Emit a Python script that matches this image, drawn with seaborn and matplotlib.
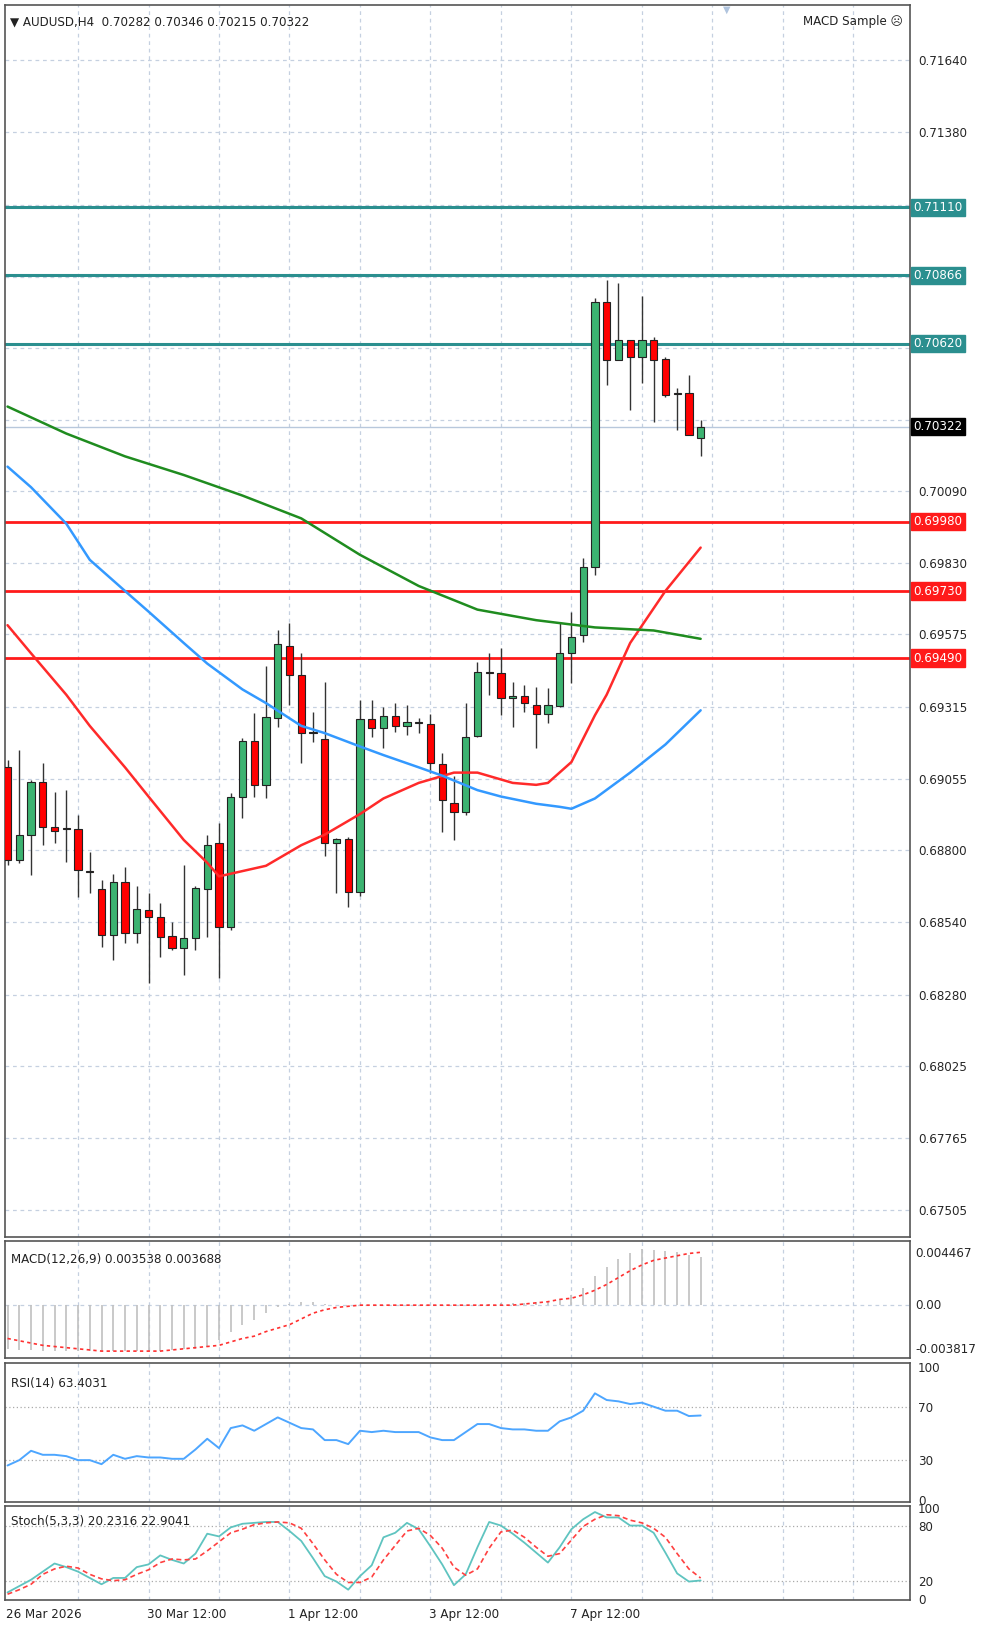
import numpy as np
import pandas as pd
import matplotlib
matplotlib.use("Agg")
import matplotlib.pyplot as plt
import matplotlib.transforms as mtrans
import seaborn as sns

sns.set_style("white")
plt.rcParams['font.family'] = ['DejaVu Sans']

# ---------------- data ----------------
opens = [0.69099,0.68764,0.68854,0.69044,0.68883,0.68880,0.68876,0.68725,0.68660,0.68495,
         0.68685,0.68502,0.68585,0.68559,0.68491,0.68448,0.68484,0.68660,0.68825,0.68523,
         0.68991,0.69192,0.69034,0.69275,0.69534,0.69429,0.69224,0.69199,0.68825,0.68840,
         0.68649,0.69271,0.69239,0.69282,0.69246,0.69260,0.69253,0.69109,0.68969,0.68937,
         0.69210,0.69440,0.69437,0.69347,0.69354,0.69322,0.69289,0.69318,0.69508,0.69573,
         0.69818,0.70770,0.70562,0.70634,0.70573,0.70634,0.70565,0.70443,0.70443,0.70282]
highs = [0.69124,0.69160,0.69052,0.69113,0.69009,0.69016,0.68926,0.68793,0.68692,0.68714,
         0.68739,0.68671,0.68646,0.68610,0.68541,0.68746,0.68671,0.68854,0.68897,0.69005,
         0.69203,0.69293,0.69462,0.69591,0.69616,0.69508,0.69296,0.69404,0.68843,0.68847,
         0.69340,0.69340,0.69314,0.69329,0.69322,0.69275,0.69289,0.69149,0.69066,0.69329,
         0.69476,0.69508,0.69526,0.69404,0.69393,0.69386,0.69383,0.69620,0.69656,0.69850,
         0.70785,0.70849,0.70839,0.70634,0.70792,0.70645,0.70573,0.70461,0.70508,0.70346]
lows = [0.68746,0.68754,0.68710,0.68818,0.68825,0.68757,0.68631,0.68646,0.68451,0.68404,
        0.68466,0.68466,0.68322,0.68415,0.68441,0.68351,0.68441,0.68487,0.68340,0.68513,
        0.68915,0.68991,0.68987,0.69242,0.69322,0.69113,0.69189,0.68779,0.68646,0.68595,
        0.68635,0.69207,0.69167,0.69224,0.69214,0.69221,0.69077,0.68865,0.68836,0.68926,
        0.69207,0.69357,0.69286,0.69242,0.69296,0.69167,0.69257,0.69314,0.69401,0.69548,
        0.69789,0.70472,0.70562,0.70382,0.70479,0.70339,0.70429,0.70310,0.70328,0.70215]
closes = [0.68764,0.68854,0.69044,0.68883,0.68869,0.68876,0.68728,0.68722,0.68495,0.68685,
          0.68502,0.68588,0.68559,0.68487,0.68448,0.68484,0.68664,0.68818,0.68523,0.68991,
          0.69192,0.69034,0.69278,0.69541,0.69429,0.69221,0.69221,0.68825,0.68840,0.68649,
          0.69271,0.69239,0.69282,0.69246,0.69260,0.69257,0.69113,0.68980,0.68937,0.69207,
          0.69440,0.69437,0.69347,0.69354,0.69329,0.69289,0.69322,0.69508,0.69566,0.69818,
          0.70770,0.70562,0.70634,0.70573,0.70634,0.70562,0.70436,0.70440,0.70290,0.70322]

ma_idx = [0,2,5,7,10,12,15,17,18,20,22,25,27,30,32,35,38,40,43,45,46,48,50,51,53,56,59]
ma_red = [0.69608,0.69507,0.69358,0.69246,0.69097,0.68992,0.68836,0.68754,0.68705,0.68724,
          0.68743,0.68817,0.68855,0.68929,0.68985,0.69041,0.69078,0.69078,0.69041,0.69034,
          0.69041,0.69116,0.69284,0.69358,0.69544,0.69731,0.69887]
blue_idx = [0,2,5,7,10,12,15,17,20,22,25,27,30,32,35,37,40,42,45,47,48,50,53,56,59]
ma_blue = [0.70178,0.70104,0.69973,0.69843,0.69731,0.69657,0.69544,0.69470,0.69377,0.69328,
           0.69246,0.69220,0.69172,0.69141,0.69097,0.69067,0.69015,0.68992,0.68966,0.68955,
           0.68948,0.68985,0.69078,0.69179,0.69302]
green_idx = [0,5,10,15,20,25,30,35,40,45,50,55,59]
ma_green = [0.70394,0.70297,0.70215,0.70148,0.70074,0.69992,0.69861,0.69749,0.69664,0.69626,
            0.69600,0.69589,0.69559]

resist_levels = [0.71110, 0.70866, 0.70620]
support_levels = [0.69980, 0.69730, 0.69490]
current_price = 0.70322
price_ticks = [0.71640,0.71380,0.71120,0.70860,0.70605,0.70345,0.70090,0.69830,0.69575,
               0.69315,0.69055,0.68800,0.68540,0.68280,0.68025,0.67765,0.67505]
price_tick_labels = ["0.71640","0.71380","","","","","0.70090","0.69830","0.69575",
                     "0.69315","0.69055","0.68800","0.68540","0.68280","0.68025","0.67765","0.67505"]

macd_hist = [-0.0038,-0.0039,-0.0039,-0.0040,-0.0040,-0.0040,-0.0040,-0.0040,-0.0040,-0.0040,
             -0.0040,-0.0040,-0.0040,-0.0040,-0.0039,-0.0038,-0.0038,-0.0036,-0.0030,-0.0023,
             -0.0017,-0.0013,-0.0007,-0.0002,0.0001,0.0003,0.0003,0.0001,0.0000,0.0000,
             0.0000,0.0000,0.0000,0.0000,0.0000,0.0000,0.0000,0.0000,0.0000,0.0000,
             0.0000,0.0001,0.0002,0.0002,0.0002,0.0003,0.0003,0.0005,0.0009,0.0015,
             0.0025,0.0033,0.0040,0.0045,0.0049,0.0048,0.0047,0.0046,0.0044,0.0042]
macd_signal = [-0.0029,-0.0031,-0.0033,-0.0035,-0.0036,-0.0037,-0.0038,-0.0039,-0.0040,-0.0040,
               -0.0040,-0.0040,-0.0040,-0.0040,-0.0039,-0.0038,-0.0037,-0.0036,-0.0035,-0.0032,
               -0.0029,-0.0027,-0.0023,-0.0020,-0.0017,-0.0012,-0.0007,-0.0004,-0.0002,-0.0001,
               0.0000,0.0000,0.0000,0.0000,0.0000,0.0000,0.0000,0.0000,0.0000,0.0000,
               0.0000,0.0000,0.0000,0.0000,0.0001,0.0002,0.0003,0.0005,0.0006,0.0009,
               0.0013,0.0018,0.0024,0.0030,0.0035,0.0039,0.0041,0.0043,0.0045,0.0046]

rsi = [26,30,37,34,34,33,30,30,27,34,31,33,32,32,31,31,38,46,39,54,
       56,52,57,62,58,54,53,45,45,42,52,51,52,51,51,51,47,45,45,51,
       57,57,54,53,53,52,52,59,62,67,80,75,74,72,73,70,67,67,63,63.4]

stoch_k = [7,14,21,30,39,35,30,23,16,23,23,35,38,48,43,39,50,72,69,79,
           83,84,85,85,75,64,45,25,19,10,25,37,68,73,84,77,58,38,15,27,
           57,85,81,72,62,51,40,57,77,88,96,90,90,81,81,73,51,28,19,20.2]
stoch_d = [5,10,16,27,33,36,34,27,22,20,21,27,32,40,44,43,44,53,63,73,
           77,82,84,85,84,78,61,43,27,18,18,24,43,59,75,78,70,56,35,26,
           33,56,74,76,68,57,47,50,65,80,88,93,92,87,84,78,68,50,33,22.9]

date_idx = [0, 12, 24, 36, 48]
date_labels = ["26 Mar 2026", "30 Mar 12:00", "1 Apr 12:00", "3 Apr 12:00", "7 Apr 12:00"]

# ---------------- layout ----------------
W, H = 964.0, 1568.0
def rect(x0, y0, x1, y1):
    return [x0 / W, 1 - y1 / H, (x1 - x0) / W, (y1 - y0) / H]

fig = plt.figure(figsize=(10, 16.26), dpi=100)
fig.patch.set_facecolor("white")
ax = fig.add_axes(rect(5, 5, 877, 1193))
ax_m = fig.add_axes(rect(5, 1197, 877, 1310))
ax_r = fig.add_axes(rect(5, 1314, 877, 1448))
ax_s = fig.add_axes(rect(5, 1452, 877, 1543))

XL = (-0.2, 76.8)
grid_x = np.arange(6, 77, 6)
FS = 8.6
gridc = "#c5d0e0"
for a in (ax, ax_m, ax_r, ax_s):
    a.set_xlim(*XL)
    for gx in grid_x:
        a.axvline(gx, color=gridc, lw=0.9, ls=(0, (3, 3)), zorder=0)
    for sp in a.spines.values():
        sp.set_color("#555555")
        sp.set_linewidth(1.2)
    a.set_xticks([])
    a.tick_params(axis="y", length=0, labelsize=FS, pad=6)
    a.yaxis.tick_right()

# ---------------- main pane ----------------
ax.set_ylim(0.67408, 0.71837)
ax.set_yticks(price_ticks)
ax.set_yticklabels(price_tick_labels)
for t in price_ticks:
    ax.axhline(t, color=gridc, lw=0.9, ls=(0, (3, 3)), zorder=0)

idx = np.arange(len(opens))
df = pd.DataFrame({"i": idx, "o": opens, "h": highs, "l": lows, "c": closes})
for r in df.itertuples():
    ax.vlines(r.i, r.l, r.h, color="#333333", lw=1.0, zorder=3)
    lo, hi = min(r.o, r.c), max(r.o, r.c)
    col = "#3cb371" if r.c >= r.o else "#ff0000"
    hgt = max(hi - lo, 0.000035)
    ax.bar(r.i, hgt, bottom=lo, width=0.62, color=col, edgecolor="#222222", lw=0.8, zorder=4)

sns.lineplot(x=ma_idx, y=ma_red, ax=ax, color="#ff2a2a", lw=1.8, zorder=5)
sns.lineplot(x=blue_idx, y=ma_blue, ax=ax, color="#3399ff", lw=1.8, zorder=5)
sns.lineplot(x=green_idx, y=ma_green, ax=ax, color="#1f8c1f", lw=1.8, zorder=5)

trans = mtrans.blended_transform_factory(ax.transAxes, ax.transData)
teal = "#2b8f8f"
for lv in resist_levels:
    ax.axhline(lv, color=teal, lw=2.2, zorder=2)
    ax.text(1.004, lv, f"{lv:.5f}", transform=trans, ha="left", va="center", fontsize=FS,
            color="white", bbox=dict(facecolor=teal, edgecolor=teal, pad=1.6), clip_on=False)
for lv in support_levels:
    ax.axhline(lv, color="#ff1a1a", lw=2.0, zorder=2)
    ax.text(1.004, lv, f"{lv:.5f}", transform=trans, ha="left", va="center", fontsize=FS,
            color="white", bbox=dict(facecolor="#ff1a1a", edgecolor="#ff1a1a", pad=1.6), clip_on=False)
ax.axhline(current_price, color="#b8c8dc", lw=1.0, zorder=1)
ax.text(1.004, current_price, f"{current_price:.5f}", transform=trans, ha="left", va="center",
        fontsize=FS, color="white", bbox=dict(facecolor="black", edgecolor="black", pad=1.6), clip_on=False)

ax.text(0.005, 0.992, "▼ AUDUSD,H4  0.70282 0.70346 0.70215 0.70322", transform=ax.transAxes,
        ha="left", va="top", fontsize=FS, color="#222222")
ax.text(0.992, 0.992, "MACD Sample ☹", transform=ax.transAxes, ha="right", va="top",
        fontsize=FS, color="#222222")
ax.text(0.798, 1.0, "▼", transform=ax.transAxes, ha="center", va="top", fontsize=7, color="#b0c4de")

# ---------------- MACD ----------------
ax_m.set_ylim(-0.00464, 0.00556)
ax_m.set_yticks([])
ax_m.axhline(0, color=gridc, lw=0.9, ls=(0, (3, 3)), zorder=0)
ax_m.vlines(idx, 0, macd_hist, color="#c0c0c0", lw=1.2, zorder=2)
sns.lineplot(x=idx, y=macd_signal, ax=ax_m, color="#ff3030", lw=1.2, ls=(0, (2, 2)), zorder=3)
ax_m.text(0.006, 0.9, "MACD(12,26,9) 0.003538 0.003688", transform=ax_m.transAxes, ha="left",
          va="top", fontsize=FS, color="#222222")
tm = mtrans.blended_transform_factory(ax_m.transAxes, ax_m.transData)
for v, s in [(0.004467, "0.004467"), (0.0, "0.00"), (-0.003817, "-0.003817")]:
    ax_m.text(1.006, v, s, transform=tm, ha="left", va="center", fontsize=FS, clip_on=False)

# ---------------- RSI ----------------
ax_r.set_ylim(-1, 103)
ax_r.set_yticks([100, 70, 30, 0])
ax_r.set_yticklabels(["100", "70", "30", "0"])
for lv in (70, 30):
    ax_r.axhline(lv, color="#aaaaaa", lw=0.9, ls=(0, (1, 2)), zorder=0)
sns.lineplot(x=idx, y=rsi, ax=ax_r, color="#4da6ff", lw=1.4)
ax_r.text(0.006, 0.9, "RSI(14) 63.4031", transform=ax_r.transAxes, ha="left", va="top",
          fontsize=FS, color="#222222")

# ---------------- Stochastic ----------------
ax_s.set_ylim(-1.5, 103)
ax_s.set_yticks([100, 80, 20, 0])
ax_s.set_yticklabels(["100", "80", "20", "0"])
for lv in (80, 20):
    ax_s.axhline(lv, color="#aaaaaa", lw=0.9, ls=(0, (1, 2)), zorder=0)
sns.lineplot(x=idx, y=stoch_k, ax=ax_s, color="#5fc4c0", lw=1.3)
sns.lineplot(x=idx, y=stoch_d, ax=ax_s, color="#ff4040", lw=1.2, ls=(0, (3, 2)))
ax_s.text(0.006, 0.9, "Stoch(5,3,3) 20.2316 22.9041", transform=ax_s.transAxes, ha="left",
          va="top", fontsize=FS, color="#222222")

for a in (ax, ax_m, ax_r, ax_s):
    a.set_xlabel("")
    a.set_ylabel("")

# date axis
ax_s.set_xticks(date_idx)
ax_s.set_xticklabels([""] * len(date_idx))
ax_s.tick_params(axis="x", length=4, color="#333333", direction="out")
td = mtrans.blended_transform_factory(ax_s.transData, fig.transFigure)
for di, lab in zip(date_idx, date_labels):
    ax_s.text(di - 0.1, 1 - 1557 / H, lab, transform=td, ha="left", va="center",
              fontsize=FS, color="#222222", clip_on=False)

fig.savefig("out.png", dpi=100, facecolor="white")
